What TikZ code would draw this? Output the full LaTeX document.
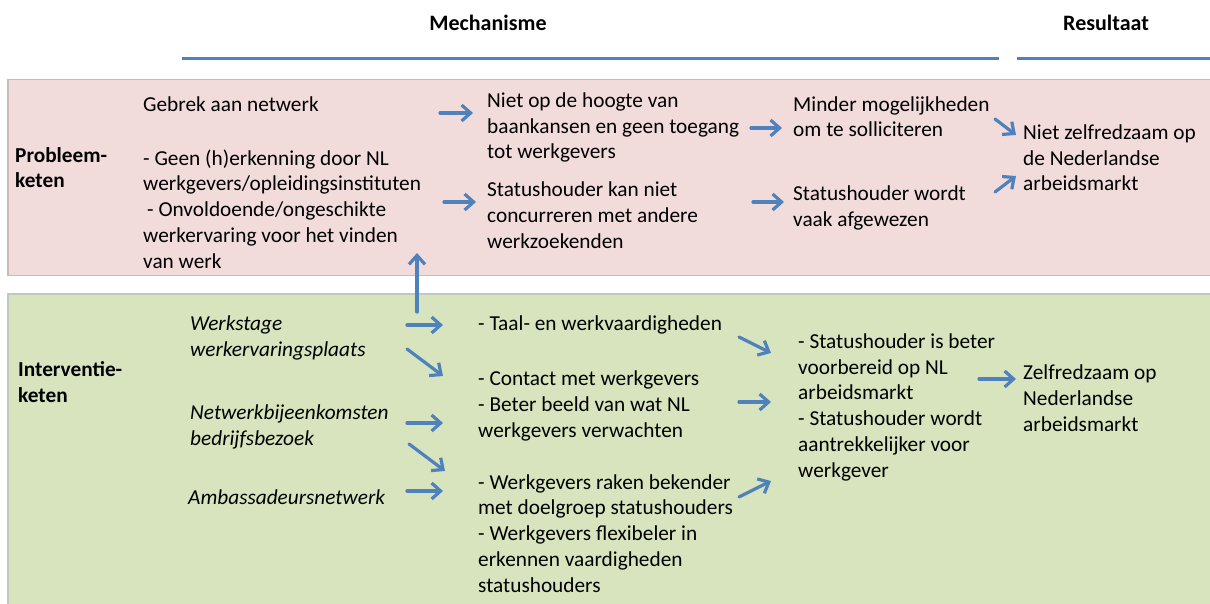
\documentclass[tikz,border=0pt]{standalone}
\usepackage{fontspec}
\setmainfont{Carlito}
\usetikzlibrary{arrows.meta}
\definecolor{arrowblue}{HTML}{4F81BD}
\definecolor{pinkfill}{HTML}{F2DCDB}
\definecolor{greenfill}{HTML}{D7E4BD}
\definecolor{pinkline}{HTML}{C9B9B9}
\definecolor{greenline}{HTML}{C4C8BC}
\begin{document}
\begin{tikzpicture}[x=1pt,y=-1pt,
  txt/.style={anchor=base west, inner sep=0pt, align=left, font=\fontsize{21.3}{25.7}\selectfont},
  lbl/.style={txt, font=\fontsize{21.3}{25.7}\selectfont\bfseries},
  itx/.style={txt, font=\fontsize{21.3}{25.7}\selectfont\itshape},
  head/.style={anchor=base, inner sep=0pt, font=\fontsize{22}{26}\selectfont\bfseries},
  conn/.style={draw=arrowblue, line width=3.2pt, line cap=round, -{Straight Barb[length=9pt,width=16pt,line width=3.2pt]}},
  rule/.style={draw=arrowblue, line width=3pt}]
\useasboundingbox (0,0) rectangle (1210,604);
% boxes
\path[fill=pinkfill, draw=pinkline, line width=1.3pt] (8,79.5) rectangle (1216,275.5);
\path[fill=greenfill, draw=greenline, line width=1.3pt] (8,294) rectangle (1216,612);
% headers
\node[head] (mech) at (488,31) {Mechanisme};
\node[head, anchor=base west] (res) at (1063,31) {Resultaat};
\coordinate (r1a) at (182,59); \coordinate (r1b) at (999,59);
\coordinate (r2a) at (1017,59); \coordinate (r2b) at (1212,59);
\draw[rule] (r1a) -- (r1b);
\draw[rule] (r2a) -- (r2b);
% problem chain (base anchor = baseline of last line)
\node[lbl] (prob) at (15,188) {Probleem-\\keten};
\node[txt] (gebrek) at (143,112) {Gebrek aan netwerk};
\node[txt] (geen) at (143,268) {- Geen (h)erkenning door NL\\werkgevers/opleidingsinstituten\\\hspace*{4pt}- Onvoldoende/ongeschikte\\werkervaring voor het vinden\\van werk};
\node[txt] (nietop) at (487,159) {Niet op de hoogte van\\baankansen en geen toegang\\tot werkgevers};
\node[txt] (statkan) at (487,248) {Statushouder kan niet\\concurreren met andere\\werkzoekenden};
\node[txt] (minder) at (793,137) {Minder mogelijkheden\\om te solliciteren};
\node[txt] (statwordt) at (793,226) {Statushouder wordt\\vaak afgewezen};
\node[txt] (nietzelf) at (1023,191) {Niet zelfredzaam op\\de Nederlandse\\arbeidsmarkt};
% intervention chain
\node[lbl] (inter) at (18,402) {Interventie-\\keten};
\node[itx] (werkstage) at (190,356) {Werkstage\\werkervaringsplaats};
\node[itx] (netwerk) at (190,445) {Netwerkbijeenkomsten\\bedrijfsbezoek};
\node[itx] (ambass) at (188,504) {Ambassadeursnetwerk};
\node[txt] (taal) at (478,330) {- Taal- en werkvaardigheden};
\node[txt] (contact) at (478,437) {- Contact met werkgevers\\- Beter beeld van wat NL\\werkgevers verwachten};
\node[txt] (werkg) at (478,592) {- Werkgevers raken bekender\\met doelgroep statushouders\\- Werkgevers flexibeler in\\erkennen vaardigheden\\statushouders};
\node[txt] (statbeter) at (798,477) {- Statushouder is beter\\voorbereid op NL\\arbeidsmarkt\\- Statushouder wordt\\aantrekkelijker voor\\werkgever};
\node[txt] (zelf) at (1023,431) {Zelfredzaam op\\Nederlandse\\arbeidsmarkt};
% connector end points
\coordinate (a1s) at (440,113); \coordinate (a1e) at (473,113);
\coordinate (a2s) at (444,202); \coordinate (a2e) at (476,202);
\coordinate (a3s) at (751,128); \coordinate (a3e) at (782,128);
\coordinate (a4s) at (753,202); \coordinate (a4e) at (784,202);
\coordinate (a5s) at (995,119); \coordinate (a5e) at (1016,135);
\coordinate (a6s) at (995,192); \coordinate (a6e) at (1016,176);
\coordinate (ups) at (417,312); \coordinate (upe) at (417,253);
\coordinate (b1s) at (407,325); \coordinate (b1e) at (443,325);
\coordinate (b2s) at (407,349); \coordinate (b2e) at (443,376);
\coordinate (b3s) at (407,423); \coordinate (b3e) at (443,423);
\coordinate (b4s) at (409,444); \coordinate (b4e) at (445,471);
\coordinate (b5s) at (407,491); \coordinate (b5e) at (443,491);
\coordinate (b6s) at (739,337); \coordinate (b6e) at (771,353);
\coordinate (b7s) at (739,402); \coordinate (b7e) at (771,402);
\coordinate (b8s) at (739,497); \coordinate (b8e) at (771,481);
\coordinate (b9s) at (979,379); \coordinate (b9e) at (1016,379);
\foreach \c in {a1,a2,a3,a4,a5,a6,up,b1,b2,b3,b4,b5,b6,b7,b8,b9}
  \draw[conn] (\c s) -- (\c e);
\end{tikzpicture}
\end{document}
